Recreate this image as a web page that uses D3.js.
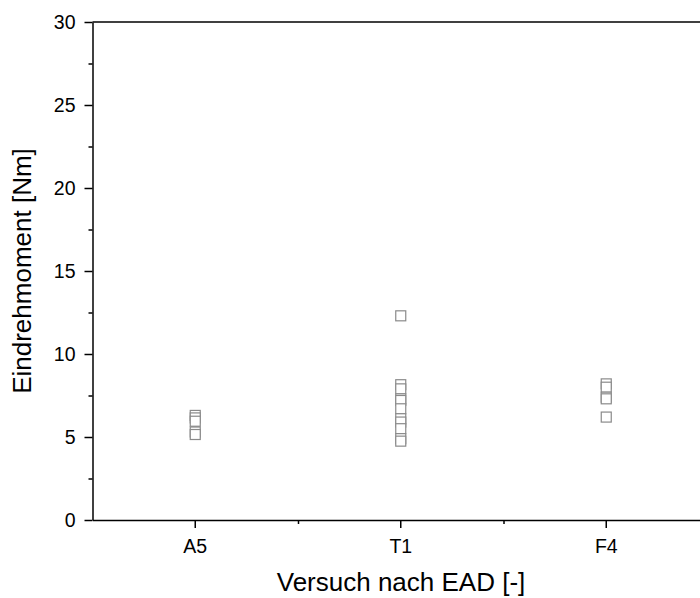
<!DOCTYPE html>
<html>
<head>
<meta charset="utf-8">
<script src="https://cdn.jsdelivr.net/npm/d3@7"></script>
<style>
  body { margin: 0; background: #fff; }
  svg { display: block; }
  svg text { font-family: "Liberation Sans", Arial, sans-serif; }
</style>
</head>
<body>
<div id="chart"></div>
<script>
// Values
const categories = ["A5", "T1", "F4"];
const a5Values = [6.3, 6.15, 5.95, 5.3, 5.15];
const t1Values = [12.3, 8.15, 7.9, 7.3, 7.2, 6.7, 6.1, 5.9, 5.5, 4.9, 4.75];
const f4Values = [8.2, 8.0, 7.4, 7.3, 6.2];
const yTicks = [0, 5, 10, 15, 20, 25, 30];
const yMinorTicks = [2.5, 7.5, 12.5, 17.5, 22.5, 27.5];
const xMinorTicks = [0.5, 1.5];

const width = 700;
const height = 598;
const margin = {left: 92.5, right: -9, top: 22, bottom: 78};

const svg = d3.select("#chart")
  .append("svg")
  .attr("width", width)
  .attr("height", height);

// scales
const xScale = d3.scaleBand()
  .domain(categories)
  .range([margin.left, width - margin.right])
  .padding(0);

const xIndex = d3.scaleLinear()
  .domain([-0.5, categories.length - 0.5])
  .range([margin.left, width - margin.right]);

const yScale = d3.scaleLinear()
  .domain([0, 30])
  .range([height - margin.bottom, margin.top]);

// points table built from the series
const series = [a5Values, t1Values, f4Values];
const points = [];
series.forEach((vals, i) => {
  vals.forEach(v => points.push({cat: categories[i], value: v}));
});

// top border
svg.append("line")
  .attr("x1", margin.left).attr("x2", width)
  .attr("y1", yScale(30)).attr("y2", yScale(30))
  .attr("stroke", "#000").attr("stroke-width", 1.5);

// y axis
const yAxis = svg.append("g")
  .attr("transform", `translate(${margin.left},0)`)
  .call(d3.axisLeft(yScale).tickValues(yTicks).tickSize(8).tickPadding(9).tickSizeOuter(0));
yAxis.selectAll("text").style("font-size", "19.5px").attr("fill", "#000");

svg.append("g")
  .attr("transform", `translate(${margin.left},0)`)
  .call(d3.axisLeft(yScale).tickValues(yMinorTicks).tickSize(4).tickFormat("").tickSizeOuter(0))
  .select(".domain").remove();

// x axis
const xAxis = svg.append("g")
  .attr("transform", `translate(0,${yScale(0)})`)
  .call(d3.axisBottom(xScale).tickSize(8).tickPadding(11).tickSizeOuter(0));
xAxis.selectAll("text").style("font-size", "19.5px").attr("fill", "#000");

svg.append("g")
  .attr("transform", `translate(0,${yScale(0)})`)
  .call(d3.axisBottom(xIndex).tickValues(xMinorTicks).tickSize(4).tickFormat("").tickSizeOuter(0))
  .select(".domain").remove();

svg.selectAll(".domain, .tick line")
  .attr("stroke", "#000")
  .attr("stroke-width", 1.5);

// axis titles
svg.append("text")
  .attr("x", 401)
  .attr("y", 591)
  .attr("text-anchor", "middle")
  .style("font-size", "26px")
  .text("Versuch nach EAD [-]");

svg.append("text")
  .attr("transform", `translate(31,${(yScale(0) + yScale(30)) / 2}) rotate(-90)`)
  .attr("text-anchor", "middle")
  .style("font-size", "26px")
  .text("Eindrehmoment [Nm]");

// markers
const size = 10;
svg.selectAll(".pt")
  .data(points)
  .enter()
  .append("rect")
    .attr("class", "pt")
    .attr("x", d => xScale(d.cat) + xScale.bandwidth() / 2 - size / 2)
    .attr("y", d => yScale(d.value) - size / 2)
    .attr("width", size)
    .attr("height", size)
    .attr("fill", "#fff")
    .attr("stroke", "#8a8a8a")
    .attr("stroke-width", 1.2);
</script>
</body>
</html>
